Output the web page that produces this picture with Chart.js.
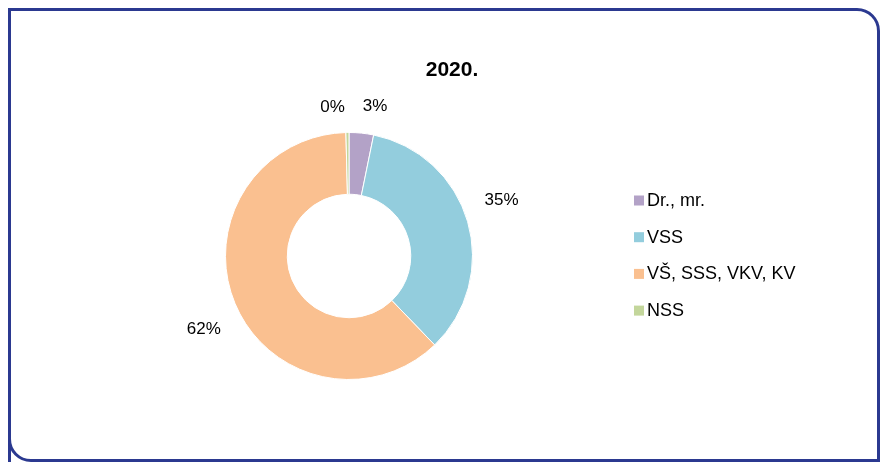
<!DOCTYPE html>
<html>
<head>
<meta charset="utf-8">
<script src="https://cdn.jsdelivr.net/npm/chart.js@4"></script>
<style>
  html, body { margin: 0; padding: 0; background: #fff; overflow: hidden; }
  canvas { display: block; }
</style>
</head>
<body>
<canvas id="chart" width="880" height="462"></canvas>
<script>
const titleText = '2020.';
const categories = ['Dr., mr.', 'VSS', 'VŠ, SSS, VKV, KV', 'NSS'];
const shares = [3.2, 34.6, 61.8, 0.4];
const colors = ['#b3a2c7', '#93cddd', '#fac090', '#c3d69b'];

const FONT = '"Liberation Sans", Arial, sans-serif';

// outer frame: square top-left, rounded top-right and bottom-left,
// right and bottom edges run off the picture
const frame = {
  id: 'frame',
  beforeDraw(chart) {
    const ctx = chart.ctx;
    ctx.save();
    ctx.strokeStyle = '#2b3990';
    ctx.lineWidth = 3;
    ctx.beginPath();
    ctx.moveTo(9.5, 470);
    ctx.lineTo(9.5, 9.5);
    ctx.lineTo(857, 9.5);
    ctx.arcTo(878.5, 9.5, 878.5, 31, 21.5);
    ctx.lineTo(878.5, 470);
    ctx.stroke();
    ctx.beginPath();
    ctx.moveTo(9.5, 430);
    ctx.arcTo(9.5, 460.5, 31, 460.5, 21.5);
    ctx.lineTo(890, 460.5);
    ctx.stroke();
    ctx.restore();
  }
};

// title, percentage labels and legend drawn on the canvas
const decor = {
  id: 'decor',
  afterDraw(chart) {
    const ctx = chart.ctx;
    ctx.save();
    ctx.fillStyle = '#000';
    ctx.textAlign = 'center';
    ctx.textBaseline = 'middle';
    ctx.font = 'bold 21px ' + FONT;
    ctx.fillText(titleText, 452, 70);

    // labels outside the ring
    const meta = chart.getDatasetMeta(0);
    const total = shares.reduce((a, b) => a + b, 0);
    ctx.font = '17px ' + FONT;
    const shift = -4 * Math.PI / 180;
    const labels = meta.data.map((arc, i) => {
      const mid = (arc.startAngle + arc.endAngle) / 2 + shift;
      const r = arc.outerRadius + 39;
      return {
        text: Math.round(shares[i] / total * 100) + '%',
        x: arc.x + Math.cos(mid) * r,
        y: arc.y + Math.sin(mid) * r,
        w: 0
      };
    });
    labels.forEach(l => l.w = ctx.measureText(l.text).width);
    // push overlapping labels apart horizontally
    for (let i = 0; i < labels.length; i++) {
      for (let j = i + 1; j < labels.length; j++) {
        const a = labels[i], b = labels[j];
        if (Math.abs(a.y - b.y) < 18) {
          const need = (a.w + b.w) / 2 + 20;
          if (Math.abs(a.x - b.x) < need) {
            const m = (a.x + b.x) / 2;
            const left = a.x <= b.x ? a : b, right = left === a ? b : a;
            left.x = m - need / 2 + 10; right.x = m + need / 2 + 8;
            left.y += 13; right.y += 13;
          }
        }
      }
    }
    labels.forEach(l => ctx.fillText(l.text, l.x, l.y));

    // legend
    ctx.textAlign = 'left';
    ctx.font = '18px ' + FONT;
    categories.forEach((c, i) => {
      const y = 200 + i * 36.7;
      ctx.fillStyle = colors[i];
      ctx.fillRect(634, y - 4.5, 10, 10);
      ctx.fillStyle = '#000';
      ctx.fillText(c, 647, y + 1);
    });
    ctx.restore();
  }
};

new Chart(document.getElementById('chart'), {
  type: 'doughnut',
  data: {
    labels: categories,
    datasets: [{
      data: shares,
      backgroundColor: colors,
      borderColor: '#ffffff',
      borderWidth: 1
    }]
  },
  options: {
    responsive: false,
    animation: false,
    cutout: '50%',
    layout: { padding: { top: 131, bottom: 81, left: 225, right: 407 } },
    plugins: {
      legend: { display: false },
      tooltip: { enabled: false },
      title: { display: false }
    }
  },
  plugins: [frame, decor]
});
</script>
</body>
</html>
